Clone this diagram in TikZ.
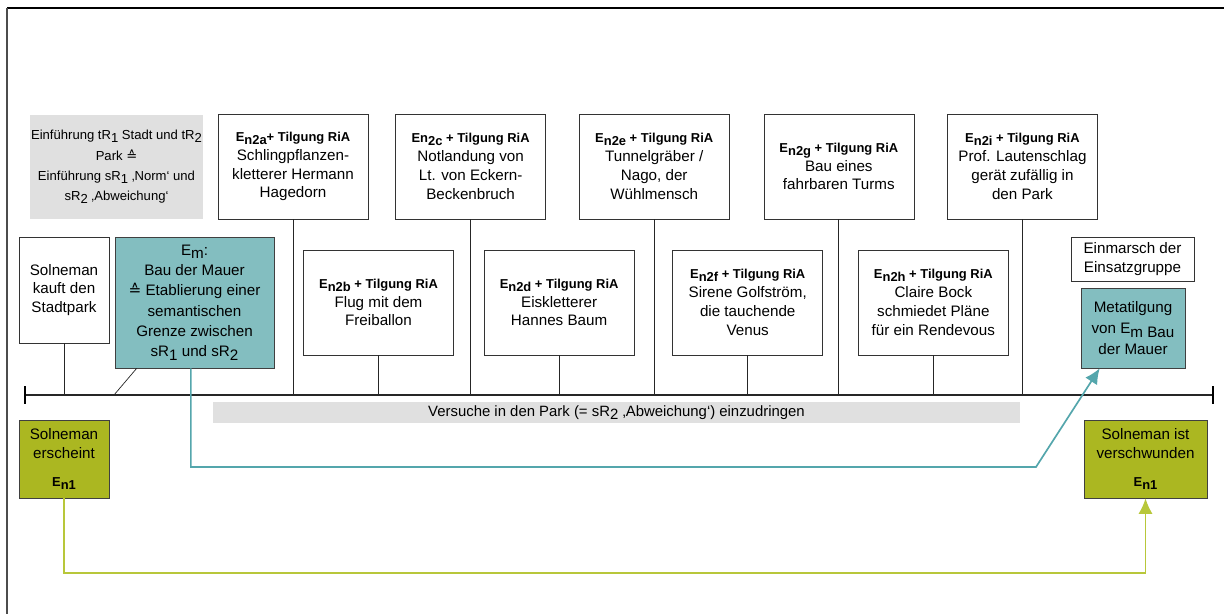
\documentclass[tikz,border=0pt]{standalone}
\usepackage{fontspec}
\setmainfont{Liberation Sans}
\newfontfamily\symfont{DejaVu Sans}
\usepackage{tikz}
\usetikzlibrary{positioning, arrows.meta}
\usepackage{xcolor}
\definecolor{tuerkis}{RGB}{131,190,192}
\definecolor{tuerkislinie}{RGB}{84,166,172}
\definecolor{oliv}{RGB}{171,183,33}
\definecolor{olivlinie}{RGB}{184,199,58}
\definecolor{hellgrau}{RGB}{224,224,224}
\newcommand{\tief}[1]{\raisebox{-0.45ex}{#1}}
\newcommand{\entspr}{{\symfont\char"2259}}
\newcommand{\fett}[1]{{\fontsize{9.2}{12}\selectfont\bfseries #1}}
\newcommand{\kopf}[1]{\fett{#1}\\}
\tikzstyle{event} = [rectangle, draw=black!80, fill=white, minimum width=3.75cm, minimum height=2.625cm, inner sep=1pt, align=center, font=\fontsize{10.8}{13.4}\selectfont]
\tikzstyle{meta} = [event, fill=tuerkis, draw=black!75]
\tikzstyle{rahmen} = [event, fill=oliv, draw=black!75, minimum width=3.075cm, minimum height=1.95cm]
\tikzstyle{grauband} = [rectangle, fill=hellgrau, align=center, inner sep=1pt]
\tikzstyle{stem} = [black!85, line width=0.5pt]
\tikzstyle{zeitstrahl} = [black!85, line width=1.2pt]
\tikzstyle{arrow} = [line width=1.2pt, -{Latex[length=11pt, width=10pt]}]
\begin{document}
\begin{tikzpicture}[x=0.025cm, y=-0.025cm]
        \useasboundingbox (0,0) rectangle (1224,614);
        % Rahmen
        \draw[black, line width=2pt] (7,8) -- (1224,8);
        \draw[black!70, line width=1.4pt] (7,8) -- (7,614);

        % obere Reihe
        \node (intro) [grauband, minimum width=4.325cm, minimum height=2.6cm, font=\fontsize{9.3}{14.4}\selectfont] at (116.5,167) {Einführung tR\tief{1} Stadt und tR\tief{2}\\ Park \entspr\\ Einführung sR\tief{1} ‚Norm‘ und\\ sR\tief{2} ‚Abweichung‘};
        \node (en2a) [event] at (293,166.5) {\kopf{E\tief{n2a}+ Tilgung RiA}Schlingpflanzen-\\ kletterer Hermann\\ Hagedorn};
        \node (en2c) [event, right=0.675cm of en2a] {\kopf{En\tief{2c} + Tilgung RiA}Notlandung von\\ Lt. von Eckern-\\ Beckenbruch};
        \node (en2e) [event, right=0.825cm of en2c] {\kopf{E\tief{n2e} + Tilgung RiA}Tunnelgräber /\\ Nago, der\\ Wühlmensch};
        \node (en2g) [event, right=0.85cm of en2e] {\kopf{E\tief{n2g} + Tilgung RiA}Bau eines\\ fahrbaren Turms};
        \node (en2i) [event, right=0.825cm of en2g] {\kopf{E\tief{n2i} + Tilgung RiA}Prof. Lautenschlag\\ gerät zufällig in\\ den Park};

        % untere Reihe
        \node (kauft) [event, minimum width=2.25cm, minimum height=2.65cm] at (64,290) {Solneman\\ kauft den\\ Stadtpark};
        \node (mauer) [meta, minimum width=3.975cm, minimum height=3.275cm, font=\fontsize{10.8}{14.4}\selectfont] at (194.5,302.5) {E\tief{m}:\\ Bau der Mauer\\ \entspr{} Etablierung einer\\ semantischen\\ Grenze zwischen\\ sR\tief{1} und sR\tief{2}};
        \node (en2b) [event] at (378.5,302.5) {\kopf{E\tief{n2b} + Tilgung RiA}Flug mit dem\\ Freiballon};
        \node (en2d) [event, right=0.75cm of en2b] {\kopf{E\tief{n2d} + Tilgung RiA}Eiskletterer\\ Hannes Baum};
        \node (en2f) [event, right=0.95cm of en2d] {\kopf{E\tief{n2f} + Tilgung RiA}Sirene Golfström,\\ die tauchende\\ Venus};
        \node (en2h) [event, right=0.875cm of en2f] {\kopf{E\tief{n2h} + Tilgung RiA}Claire Bock\\ schmiedet Pläne\\ für ein Rendevous};
        \node (einmarsch) [event, minimum width=3.075cm, minimum height=1.1cm] at (1132.5,259) {Einmarsch der\\ Einsatzgruppe};
        \node (metatilgung) [meta, minimum width=2.6cm, minimum height=2cm, font=\fontsize{10.8}{15}\selectfont] at (1133,328) {Metatilgung\\ von E\tief{m Bau}\\ der Mauer};

        % Zeitstrahl
        \coordinate (tlinks) at (25,395);
        \coordinate (trechts) at (1213,395);
        \draw[zeitstrahl] (tlinks) -- (trechts);
        \draw[black, line width=2pt] (25,386) -- (25,404);
        \draw[black, line width=2pt] (1213,386) -- (1213,404);
        \foreach \ev in {kauft, en2a, en2b, en2c, en2d, en2e, en2f, en2g, en2h, en2i}
            \draw[stem] (\ev.south) -- (\ev.south |- tlinks);
        \draw[stem] (mauer.south west) ++(22,0) -- (114,395);

        \node (versuche) [grauband, minimum width=20.175cm, minimum height=0.525cm, font=\fontsize{10.6}{12}\selectfont] at (616.5,412.5) {Versuche in den Park (= sR\tief{2} ‚Abweichung‘) einzudringen};

        % Rahmenhandlung
        \node (erscheint) [rahmen, minimum width=2.25cm] at (64,459) {Solneman\\ erscheint\\[6pt] \fett{E\tief{n1}}};
        \node (verschwunden) [rahmen] at (1145.5,459) {Solneman ist\\ verschwunden\\[6pt] \fett{E\tief{n1}}};

        \coordinate (knick) at (1036,467);
        \draw [arrow, tuerkislinie] ([xshift=-0.09cm]mauer.south) |- (knick) -- ([xshift=0.475cm]metatilgung.south west);
        \draw [arrow, olivlinie] (erscheint.south) -- ++(0,75) -| (verschwunden.south);
    \end{tikzpicture}
\end{document}
